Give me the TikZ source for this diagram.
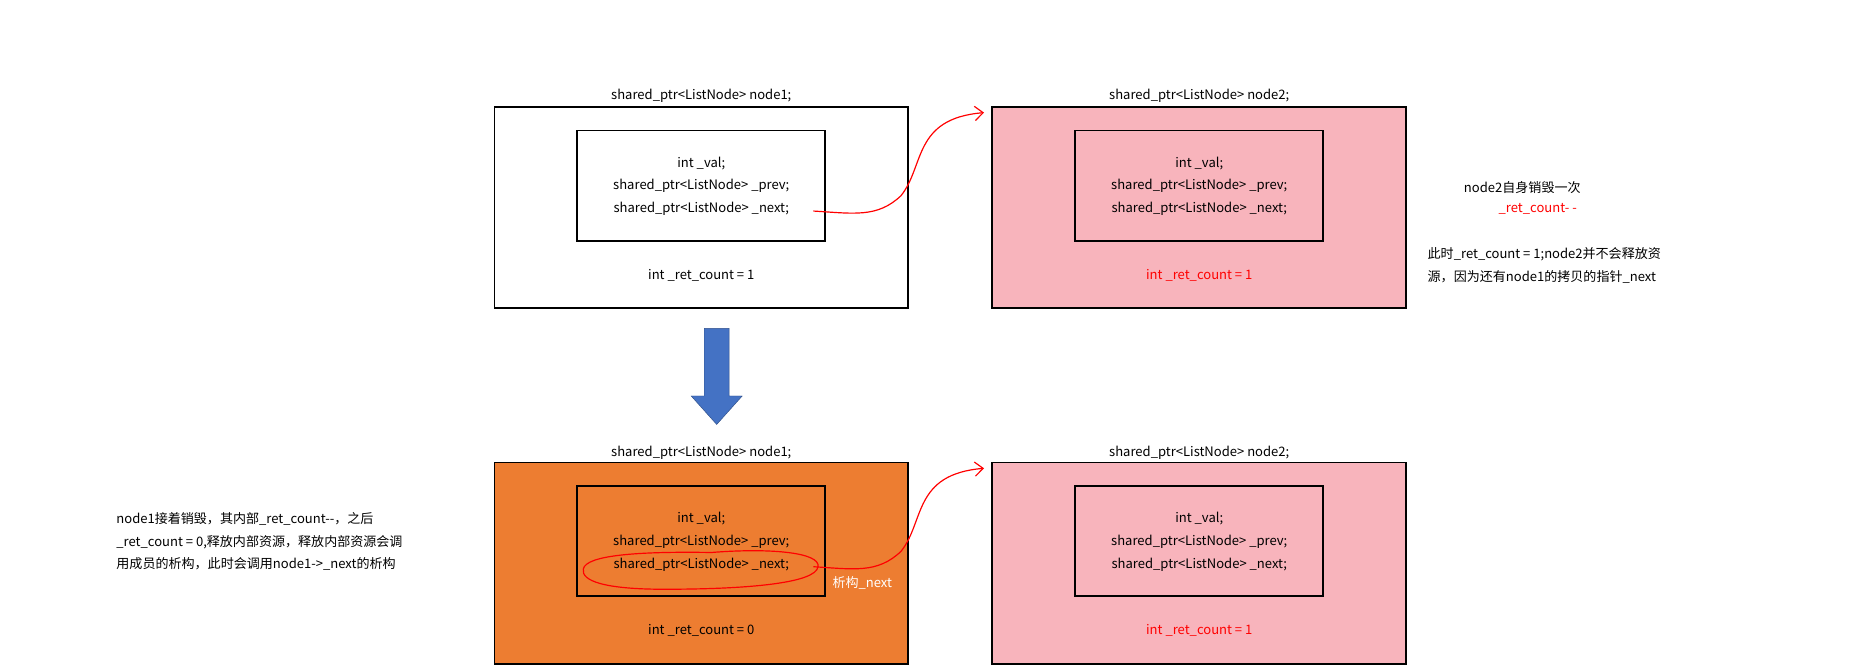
\documentclass[tikz,border=0pt]{standalone}
\usepackage{fontspec}
\setmainfont{Noto Sans CJK SC}
\usetikzlibrary{arrows.meta}
\definecolor{pk}{HTML}{F8B4BC}
\definecolor{og}{HTML}{ED7D31}
\definecolor{bl}{HTML}{4472C4}
\definecolor{rd}{HTML}{FF0000}
\begin{document}
\begin{tikzpicture}[x=1pt,y=-1pt,
  outer/.style={draw=black,line width=1.5pt,minimum width=349pt,minimum height=170pt,inner sep=0pt},
  inner/.style={draw=black,line width=1.5pt,minimum width=209pt,minimum height=93pt,inner sep=0pt},
  txt/.style={font=\fontsize{11}{19}\selectfont,align=center,inner sep=0pt},
  red/.style={draw=rd,line width=1pt}]
\useasboundingbox (0,0) rectangle (1568,566);
% top row
\node[outer] (b1) at (591.5,175) {};
\node[inner] (i1) at (591.5,156.5) {};
\node[txt] (t1) at (591.5,157) {int \_val;\\shared\_ptr<ListNode> \_prev;\\shared\_ptr<ListNode> \_next;};
\node[txt] (c1) at (591.5,232) {int \_ret\_count = 1};
\node[txt] (h1) at (591.5,81) {shared\_ptr<ListNode> node1;};
\node[outer,fill=pk] (b2) at (1011.5,175) {};
\node[inner] (i2) at (1011.5,156.5) {};
\node[txt] (t2) at (1011.5,157) {int \_val;\\shared\_ptr<ListNode> \_prev;\\shared\_ptr<ListNode> \_next;};
\node[txt,text=rd] (c2) at (1011.5,232) {int \_ret\_count = 1};
\node[txt] (h2) at (1011.5,81) {shared\_ptr<ListNode> node2;};
% bottom row
\node[outer,fill=og] (b3) at (591.5,475) {};
\node[inner] (i3) at (591.5,456.5) {};
\node[txt] (t3) at (591.5,457) {int \_val;\\shared\_ptr<ListNode> \_prev;\\shared\_ptr<ListNode> \_next;};
\node[txt] (c3) at (591.5,532) {int \_ret\_count = 0};
\node[txt] (h3) at (591.5,382) {shared\_ptr<ListNode> node1;};
\node[outer,fill=pk] (b4) at (1011.5,475) {};
\node[inner] (i4) at (1011.5,456.5) {};
\node[txt] (t4) at (1011.5,457) {int \_val;\\shared\_ptr<ListNode> \_prev;\\shared\_ptr<ListNode> \_next;};
\node[txt,text=rd] (c4) at (1011.5,532) {int \_ret\_count = 1};
\node[txt] (h4) at (1011.5,382) {shared\_ptr<ListNode> node2;};
% down arrow
\draw[draw=bl!70!black,fill=bl] (594,277) -- (615,277) -- (615,334) -- (626,334) -- (604.5,358) -- (583,334) -- (594,334) -- cycle;
% red curves
\coordinate (s1) at (686,178);
\coordinate (e1) at (830,95);
\draw[red,-{Straight Barb[length=7pt,width=12pt]}] (s1) .. controls (720,180) and (740,184) .. (760,165) .. controls (780,140) and (770,100) .. (e1);
\coordinate (s2) at (686,478);
\coordinate (e2) at (830,395);
\draw[red,-{Straight Barb[length=7pt,width=12pt]}] (s2) .. controls (720,480) and (740,484) .. (760,465) .. controls (780,440) and (770,400) .. (e2);
\draw[red] (600,466) .. controls (650,462) and (692,466) .. (690,478) .. controls (688,492) and (630,497) .. (560,497) .. controls (510,497) and (490,490) .. (492,480) .. controls (494,468) and (540,465) .. (600,466);
\node[txt,text=white,anchor=west] (lb) at (702,492) {析构\_next};
% side texts
\node[txt,anchor=west,align=left] (lt) at (98,457) {node1接着销毁，其内部\_ret\_count-{}-，之后\\\_ret\_count = 0,释放内部资源，释放内部资源会调\\用成员的析构，此时会调用node1->\_next的析构};
\node[txt] (r1) at (1284,158) {node2自身销毁一次};
\node[txt,text=rd] (r2) at (1297,176) {\_ret\_count- -};
\node[txt,anchor=west,align=left] (r3) at (1204,224) {此时\_ret\_count = 1;node2并不会释放资\\源，因为还有node1的拷贝的指针\_next};
\end{tikzpicture}
\end{document}
